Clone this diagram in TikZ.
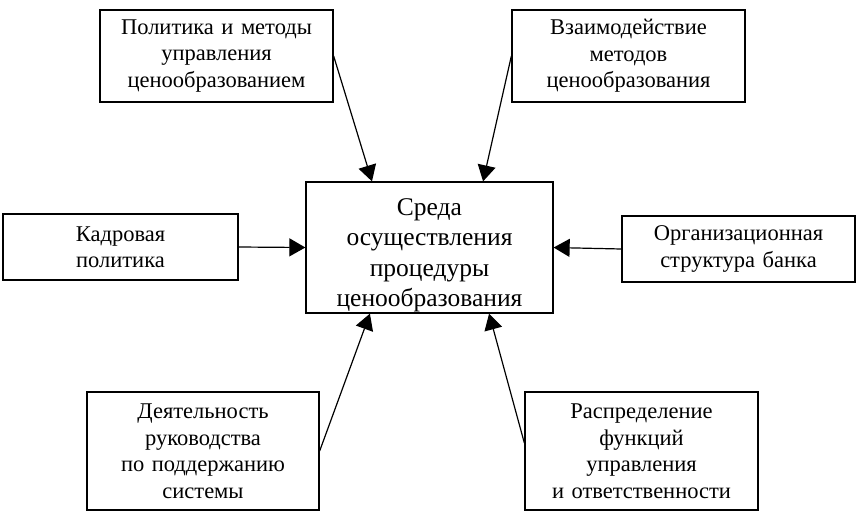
\documentclass[tikz,border=0pt]{standalone}
\usepackage{fontspec}
\setmainfont{Liberation Serif}
\usetikzlibrary{shapes,arrows.meta}

\begin{document}
\begin{tikzpicture}[x=1pt,y=-1pt,
    block_side/.style ={rectangle, draw=black, line width=1.3pt, fill=white,
      text width=225pt, align=center, inner sep=0pt,
      font=\fontsize{22.5}{26.5}\selectfont},
    block_center/.style ={rectangle, draw=black, line width=1.3pt, fill=white,
      text width=235pt, align=center, inner sep=0pt,
      minimum width=247pt, minimum height=131pt,
      font=\fontsize{25.5}{30.5}\selectfont},
    line/.style ={draw, line width=1.2pt, -{Triangle[length=16pt,width=18pt]}, shorten >=0pt}]
    \useasboundingbox (0,0) rectangle (859,520);
    % central node
    \node [block_center] (sreda) at (429.5,247.5)
      {\rule{0pt}{32pt}Среда\\осуществления\\процедуры\\ценообразования};
    % surrounding nodes
    \node [block_side, minimum width=233pt, minimum height=92pt] (politics) at (216.5,56)
      {Политика и методы\\управления\\ценообразованием};
    \node [block_side, minimum width=233pt, minimum height=92pt] (interaction) at (628.5,56)
      {Взаимодействие\\методов\\ценообразования};
    \node [block_side, minimum width=235pt, minimum height=66pt] (personnel) at (120.5,247)
      {Кадровая\\политика};
    \node [block_side, minimum width=233pt, minimum height=66pt] (structure) at (738.5,249)
      {Организационная\\структура банка};
    \node [block_side, minimum width=232pt, minimum height=118pt] (management) at (203,451)
      {Деятельность\\руководства\\по поддержанию\\системы};
    \node [block_side, minimum width=233pt, minimum height=118pt] (distribution) at (641.5,451)
      {Распределение\\функций\\управления\\и ответственности};
    % connecting nodes with paths
    \begin{scope}[every path/.style=line]
      \path (politics.east)     -- (sreda.131);
      \path (interaction.west)  -- (sreda.51);
      \path (personnel.east)    -- (sreda.west);
      \path (structure.west)    -- (sreda.east);
      \path (management.east)   -- (sreda.228);
      \path ([yshift=8pt]distribution.west) -- (sreda.312);
    \end{scope}
\end{tikzpicture}
\end{document}
